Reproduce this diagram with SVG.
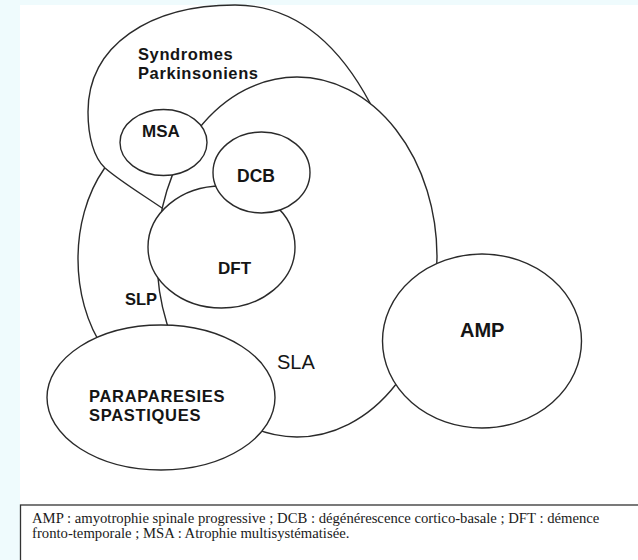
<svg xmlns="http://www.w3.org/2000/svg" width="638" height="560" viewBox="0 0 638 560">
<style>
.shape{fill:#fff;stroke:#2a2a2a;stroke-width:1.4}
.lb{font-family:"Liberation Sans",Arial,sans-serif;font-weight:bold;fill:#151515}
.lr{font-family:"Liberation Sans",Arial,sans-serif;fill:#151515}
.two{font-size:16.5px;letter-spacing:0.6px}
.cap{font-family:"Liberation Serif","Times New Roman",serif;font-size:14.7px;fill:#1a1a1a}
</style>
<rect x="0" y="0" width="638" height="560" fill="#effbfd"/>
<rect x="20" y="5" width="618" height="555" fill="#fff"/>
<g id="SLP">
<ellipse class="shape" cx="168" cy="259" rx="90" ry="128"/>
<text class="lb" x="125" y="305" font-size="16.5">SLP</text>
</g>
<g id="Syndromes">
<path class="shape" d="M162,208 C140,193 120,181 105,168 C94,158 88,137 88,112 C88,45 150,5 235,5 C295,5 339,45 370,103 C385,132 385,190 330,212 C280,228 200,228 162,208 Z"/>
<text class="lb two" x="138" y="60">Syndromes</text>
<text class="lb two" x="138" y="79">Parkinsoniens</text>
</g>
<g id="SLA">
<ellipse class="shape" cx="297" cy="257" rx="140" ry="180"/>
<text class="lr" x="277" y="369" font-size="20">SLA</text>
</g>
<g id="MSA">
<ellipse class="shape" cx="163.5" cy="142.5" rx="43.5" ry="33"/>
<text class="lb" x="142" y="137" font-size="17">MSA</text>
</g>
<g id="DFT">
<ellipse class="shape" cx="221.5" cy="247" rx="73.5" ry="61"/>
<text class="lb" x="218" y="274" font-size="17">DFT</text>
</g>
<g id="DCB">
<ellipse class="shape" cx="261.5" cy="172.5" rx="48.5" ry="40.5"/>
<text class="lb" x="237" y="182" font-size="17.5">DCB</text>
</g>
<g id="PARAPARESIES">
<ellipse class="shape" cx="161" cy="397.5" rx="114" ry="72.5"/>
<text class="lb two" x="89" y="402" style="letter-spacing:0.7px">PARAPARESIES</text>
<text class="lb two" x="89" y="421" style="letter-spacing:0.7px">SPASTIQUES</text>
</g>
<g id="AMP">
<ellipse class="shape" cx="482" cy="341" rx="99.5" ry="87"/>
<text class="lb" x="460" y="337" font-size="20">AMP</text>
</g>
<g id="connectors"></g>
<g id="caption">
<rect x="20.5" y="505" width="630" height="70" fill="#fff" stroke="#333" stroke-width="1.3"/>
<text class="cap" x="32" y="523">AMP : amyotrophie spinale progressive ; DCB : dégénérescence cortico-basale ; DFT : démence</text>
<text class="cap" x="32" y="538">fronto-temporale ; MSA : Atrophie multisystématisée.</text>
</g>
</svg>
